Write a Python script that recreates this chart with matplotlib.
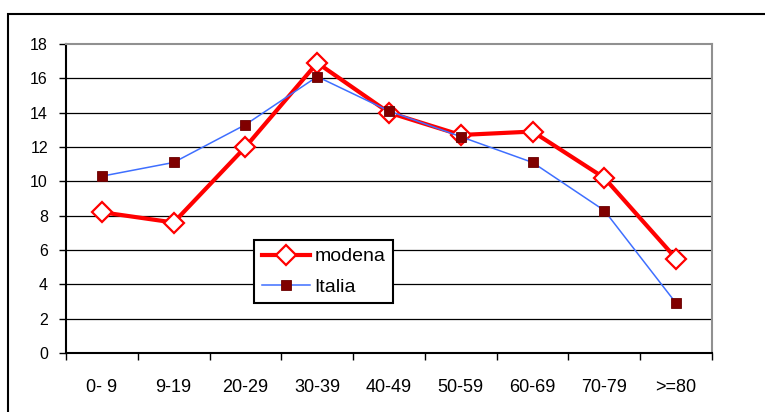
import matplotlib
matplotlib.use("Agg")
import matplotlib.pyplot as plt
from matplotlib.patches import Rectangle
import numpy as np

plt.rcParams['font.family'] = ['Liberation Sans', 'DejaVu Sans']

categories = ["0- 9", "9-19", "20-29", "30-39", "40-49", "50-59", "60-69", "70-79", ">=80"]
modena = [8.2, 7.6, 12.0, 16.9, 14.0, 12.7, 12.9, 10.2, 5.5]
italia = [10.3, 11.1, 13.3, 16.1, 14.1, 12.6, 11.1, 8.3, 2.9]
yticks = [0, 2, 4, 6, 8, 10, 12, 14, 16, 18]

fig = plt.figure(figsize=(7.65, 4.12), dpi=100)
# outer chart frame (extends beyond the image to the right and bottom)
fig.patches.append(Rectangle((8/765, -0.1), 1.2, (412-14)/412 + 0.1,
                             transform=fig.transFigure, fill=False,
                             edgecolor='black', linewidth=1.5))

ax = fig.add_axes([66/765, (412-353)/412, (712-66)/765, (353-44)/412])
x = np.arange(len(categories))

ax.plot(x, modena, color='#FF0000', linewidth=3.0, marker='D', markersize=10,
        markerfacecolor='white', markeredgecolor='#FF0000', markeredgewidth=1.6,
        label='modena', zorder=3)
ax.plot(x, italia, color='#3F6FFF', linewidth=1.1, marker='s', markersize=7,
        markerfacecolor='#800000', markeredgecolor='#6a0000', markeredgewidth=0.6,
        label='Italia', zorder=4)

ax.set_xlim(-0.5, len(categories) - 0.5)
ax.set_ylim(0, 18)
ax.set_yticks(yticks)
ax.set_xticks(x)
ax.set_xticklabels(categories)
ax.set_xticks(np.arange(-0.5, len(categories)), minor=True)
ax.tick_params(axis='x', which='major', length=0, pad=19, labelsize=13)
ax.tick_params(axis='x', which='minor', length=5, width=1, direction='out', color='black')
ax.tick_params(axis='y', length=5, width=1, direction='out', pad=8, labelsize=11.5)

ax.grid(axis='y', color='black', linewidth=0.9)
ax.yaxis.get_major_ticks()[-1].gridline.set_visible(False)
ax.yaxis.get_major_ticks()[0].gridline.set_visible(False)
ax.set_axisbelow(True)

for s in ['left', 'bottom']:
    ax.spines[s].set_color('black')
    ax.spines[s].set_linewidth(1.5)
for s in ['top', 'right']:
    ax.spines[s].set_color('#909090')
    ax.spines[s].set_linewidth(1.5)

leg = ax.legend(loc='upper left', bbox_to_anchor=((254-66)/646, (353-240)/309),
                frameon=True, fancybox=False, edgecolor='black', framealpha=1,
                fontsize=14, handlelength=2.5, handletextpad=0.2,
                borderpad=0.4, labelspacing=0.65, borderaxespad=0)
leg.get_frame().set_linewidth(1.5)
leg.set_zorder(10)

fig.savefig('out.png', dpi=100)
